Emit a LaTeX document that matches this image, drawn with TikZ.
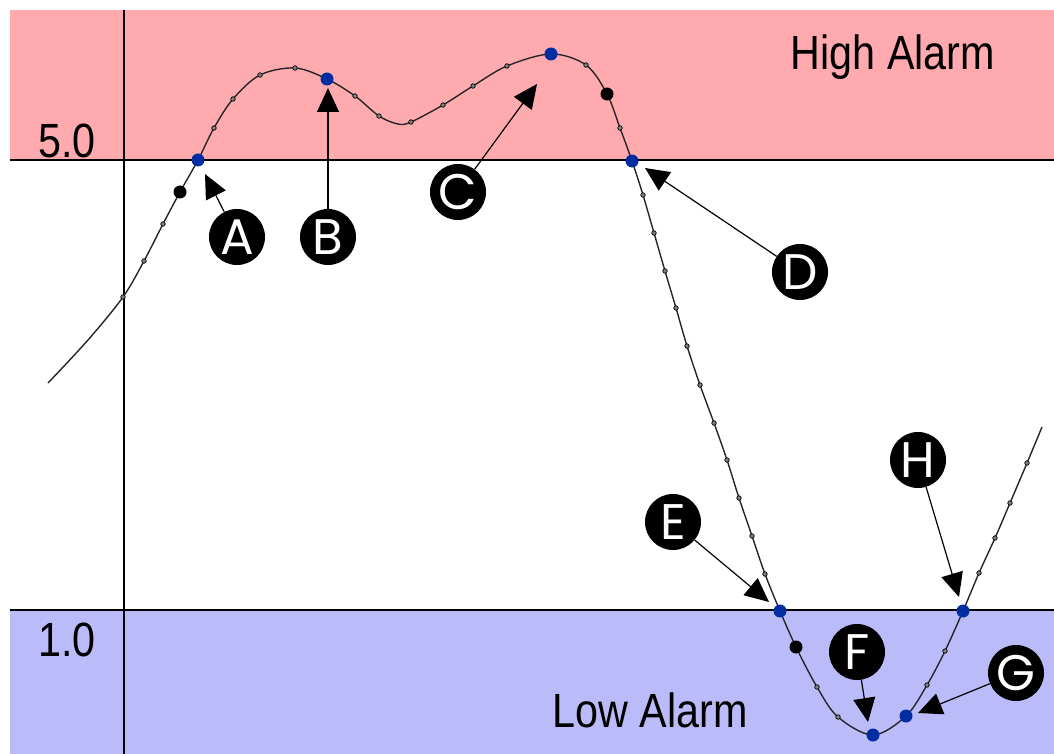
\documentclass[tikz,border=0pt]{standalone}
\usepackage{fontspec}
\setmainfont{Liberation Sans}
\newfontfamily\alarmfont[FakeStretch=0.86]{Liberation Sans}
\newfontfamily\letterfont{Poppins}
\usetikzlibrary{arrows.meta}

\definecolor{highpink}{RGB}{255,170,175}
\definecolor{lowblue}{RGB}{187,187,249}
\definecolor{dotblue}{RGB}{0,45,160}

\begin{document}
\begin{tikzpicture}[x=1pt,y=-1pt,
  letter/.style={circle, fill=black, text=white, minimum size=56pt, inner sep=0pt,
    font=\letterfont\fontsize{50}{50}\selectfont},
  pointer/.style={line width=1.2pt, -{Triangle[length=24pt,width=22pt]}},
  bluedot/.style={circle, fill=dotblue, minimum size=13pt, inner sep=0pt},
  blackdot/.style={circle, fill=black, minimum size=13pt, inner sep=0pt},
  smalldot/.style={circle, fill=gray, draw=black, line width=0.7pt, minimum size=4.5pt, inner sep=0pt},
  alarm/.style={font=\alarmfont\fontsize{48}{50}\selectfont, inner sep=0pt}]

\useasboundingbox (0,0) rectangle (1054,754);

% alarm bands
\fill[highpink] (10,10) rectangle (1054,160);
\fill[lowblue] (10,610) rectangle (1054,754);
\draw[line width=1.3pt] (10,160) -- (1054,160); % limite haute
\draw[line width=1.3pt] (10,610) -- (1054,610); % limite basse
\draw[line width=1.3pt] (124,10) -- (124,754);   % l'axe

\node[alarm] (lblhigh) at (67,141) {5.0};
\node[alarm] (lbllow) at (67,640) {1.0};
\node[alarm] (high) at (893,57) {High Alarm};
\node[alarm] (low) at (650,710) {Low Alarm};

% the signal
\draw[line width=1.4pt, black!85] plot[smooth, tension=0.55] coordinates {
  (48,383) (88,340) (123,297) (144,261) (163,224) (180,192) (198,160) (214,128)
  (233,99) (260,75) (295,68) (327,79) (355,96) (379,116) (398,124) (411,122) (443,105)
  (473,86) (507,66) (551,54) (586,65) (607,94) (620,128) (632,161) (643,195)
  (654,233) (665,271) (676,308) (687,346) (700,385) (714,423) (727,460) (739,498)
  (752,536) (765,574) (780,611) (796,647) (817,687) (838,717) (873,735) (906,716)
  (927,685) (945,651) (963,611) (979,573) (995,538) (1010,503) (1027,463) (1042,427)};

\foreach \Point in {(123,297),(144,261),(163,224),(214,128),(233,99),(260,75),(295,68),
    (355,96),(379,116),(411,122),(443,105),(473,86),(507,66),(586,65),(620,128),
    (643,195),(654,233),(665,271),(676,308),(687,346),(700,385),(714,423),(727,460),
    (739,498),(752,536),(765,574),(817,687),(838,717),(927,685),(945,651),(979,573),
    (995,538),(1010,503),(1027,463)}{
    \node[smalldot] at \Point {};
}
\node[blackdot] (k1) at (180,192) {};
\node[blackdot] (k2) at (607,94) {};
\node[blackdot] (k3) at (796,647) {};

\node[bluedot] (pA) at (198,160) {};
\node[bluedot] (pB) at (327,79) {};
\node[bluedot] (pC) at (551,54) {};
\node[bluedot] (pD) at (632,161) {};
\node[bluedot] (pE) at (780,611) {};
\node[bluedot] (pF) at (873,735) {};
\node[bluedot] (pG) at (906,716) {};
\node[bluedot] (pH) at (963,611) {};

% letters and pointers
\node[letter] (A) at (237,237) {A};
\node[letter] (B) at (328,237) {B};
\node[letter] (C) at (458,192) {C};
\node[letter] (D) at (800,272) {D};
\node[letter] (E) at (673,522) {E};
\node[letter] (F) at (857,652) {F};
\node[letter] (G) at (1016,673) {G};
\node[letter] (H) at (918,460) {H};

\coordinate (tA) at (205,174);
\coordinate (tB) at (328,88);
\coordinate (tC) at (537,84);
\coordinate (tD) at (645,168);
\coordinate (tE) at (769,602);
\coordinate (tF) at (868,722);
\coordinate (tG) at (918,713);
\coordinate (tH) at (959,597);

\draw[pointer] (A) -- (tA);
\draw[pointer] (B) -- (tB);
\draw[pointer] (C) -- (tC);
\draw[pointer] (D) -- (tD);
\draw[pointer] (E) -- (tE);
\draw[pointer] (F) -- (tF);
\draw[pointer] (G) -- (tG);
\draw[pointer] (H) -- (tH);

\end{tikzpicture}
\end{document}
